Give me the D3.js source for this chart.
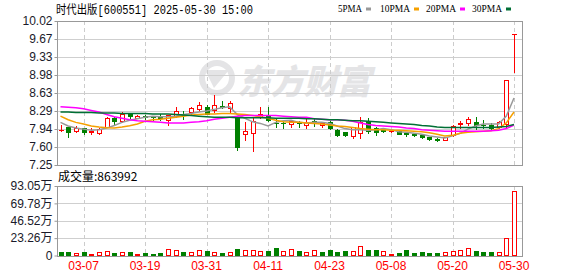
<!DOCTYPE html>
<html>
<head>
<meta charset="utf-8">
<script src="https://cdn.jsdelivr.net/npm/d3@7"></script>
<style>
body { margin: 0; background: #fff; }
svg { display: block; }
</style>
</head>
<body>
<svg id="chart" width="578" height="276"></svg>
<script>
// ---- data ----
const dates = ["03-04","03-05","03-06","03-07","03-10","03-11","03-12","03-13","03-14","03-17",
  "03-18","03-19","03-20","03-21","03-24","03-25","03-26","03-27","03-28","03-31",
  "04-01","04-02","04-03","04-07","04-08","04-09","04-10","04-11","04-14","04-15",
  "04-16","04-17","04-18","04-21","04-22","04-23","04-24","04-25","04-28","04-29",
  "04-30","05-06","05-07","05-08","05-09","05-12","05-13","05-14","05-15","05-16",
  "05-19","05-20","05-21","05-22","05-23","05-26","05-27","05-28","05-29","05-30"]
const open = [7.93,7.98,7.91,7.96,7.89,7.86,7.99,8.15,8.09,8.24, 8.16,8.19,8.18,8.18,8.12,8.20,8.24,8.26,8.32,8.37,
  8.31,8.39,8.34,8.15,7.85,7.87,8.18,8.21,8.06,8.06, 8.03,8.06,8.01,8.10,8.01,8.08,7.93,7.88,7.80,7.87,
  8.10,7.97,7.92,7.90,7.90,7.86,7.85,7.83,7.78,7.75, 7.74,7.83,8.03,8.06,8.08,8.02,8.02,7.99,8.03,9.77]
const high = [8.02,7.99,8.00,7.97,7.97,7.96,8.17,8.18,8.26,8.25, 8.22,8.21,8.20,8.23,8.22,8.36,8.29,8.37,8.47,8.40,
  8.60,8.48,8.48,8.16,8.08,8.15,8.37,8.37,8.13,8.08, 8.12,8.09,8.13,8.13,8.07,8.09,7.94,7.89,7.98,8.18,
  8.15,7.99,7.96,7.91,7.91,7.88,7.86,7.83,7.79,7.77, 7.79,8.02,8.09,8.18,8.18,8.11,8.05,8.10,8.88,9.77]
const low = [7.91,7.78,7.88,7.84,7.84,7.85,7.99,8.01,8.08,8.15, 8.15,8.13,8.12,8.12,8.02,8.18,8.13,8.21,8.29,8.23,
  8.27,8.34,8.26,7.54,7.74,7.51,8.15,8.10,7.99,7.96, 7.99,7.98,7.96,8.00,7.99,7.95,7.80,7.81,7.76,7.76,
  7.87,7.82,7.88,7.89,7.84,7.80,7.80,7.77,7.73,7.72, 7.73,7.80,7.97,8.02,7.95,7.96,7.92,7.96,7.96,9.03]
const close = [7.93,7.88,7.97,7.89,7.90,7.95,8.15,8.10,8.24,8.20, 8.20,8.18,8.17,8.16,8.21,8.29,8.22,8.34,8.40,8.24,
  8.41,8.37,8.45,7.60,7.90,8.09,8.24,8.12,8.05,8.05, 8.09,8.05,8.08,8.09,8.06,7.96,7.83,7.82,7.98,8.08,
  7.90,7.89,7.90,7.90,7.85,7.84,7.82,7.78,7.75,7.74, 7.78,8.00,8.05,8.13,8.02,8.01,7.97,8.07,8.88,9.77]
const prevClose = 7.96
// volume in 万
const volume = [4.9,4.9,4.0,4.9,2.4,4.5,6.3,3.6,4.5,4.9, 2.4,3.6,1.8,3.6,8.2,7.3,4.9,4.5,6.8,6.3,
  4.5,3.6,4.5,8.6,6.8,6.8,5.9,6.3,10.0,6.3, 8.6,6.3,4.5,7.3,4.9,7.7,4.9,6.3,6.3,12.5,
  7.7,7.7,5.9,2.4,3.6,7.7,3.6,4.9,3.6,3.6, 4.5,5.9,7.3,10.0,6.3,4.9,4.9,4.5,23.2,86.3992]
const ma5 = [8.07,8.00,7.96,7.94,7.92,7.93,7.96,8.01,8.07,8.11, 8.14,8.17,8.19,8.18,8.18,8.19,8.22,8.24,8.27,8.29,
  8.32,8.35,8.37,8.22,8.15,8.08,8.05,8.00,8.07,8.10, 8.11,8.07,8.06,8.07,8.07,8.05,8.00,7.95,7.93,7.93,
  7.92,7.93,7.95,7.93,7.89,7.88,7.86,7.84,7.81,7.79, 7.77,7.81,7.86,7.94,8.00,8.04,8.04,8.04,8.19,8.54]
const ma10 = [8.19,8.12,8.07,8.04,8.00,7.98,7.965,7.96,7.98,8.005, 8.04,8.09,8.12,8.13,8.15,8.17,8.19,8.21,8.22,8.23,
  8.23,8.24,8.24,8.23,8.22,8.20,8.18,8.15,8.11,8.08, 8.07,8.07,8.06,8.05,8.04,8.02,8.00,7.99,7.97,7.95,
  7.94,7.93,7.93,7.92,7.92,7.91,7.90,7.89,7.87,7.84, 7.81,7.82,7.86,7.88,7.89,7.90,7.91,7.95,8.06,8.27]
const ma20 = [8.37,8.36,8.35,8.33,8.30,8.27,8.22,8.18,8.15,8.12, 8.10,8.09,8.08,8.07,8.06,8.06,8.06,8.07,8.08,8.10,
  8.13,8.15,8.17,8.19,8.20,8.20,8.20,8.20,8.20,8.19, 8.18,8.17,8.17,8.14,8.13,8.12,8.12,8.11,8.09,8.06,
  8.03,8.01,8.00,7.99,7.98,7.96,7.95,7.93,7.92,7.91, 7.90,7.90,7.90,7.90,7.90,7.90,7.91,7.92,7.95,8.02]
const ma30 = [8.27,8.27,8.26,8.26,8.26,8.25,8.25,8.25,8.24,8.24, 8.24,8.24,8.23,8.23,8.23,8.22,8.21,8.20,8.19,8.18,
  8.17,8.17,8.17,8.16,8.16,8.16,8.16,8.16,8.15,8.15, 8.15,8.15,8.14,8.14,8.13,8.12,8.12,8.11,8.10,8.10,
  8.09,8.08,8.07,8.06,8.05,8.04,8.03,8.01,8.00,7.98, 7.97,7.97,7.97,7.97,7.97,7.97,7.97,7.98,7.99,8.03]
const dateTicks = ["03-07","03-19","03-31","04-11","04-23","05-08","05-20","05-30"]
const priceTickLabels = ["7.25","7.60","7.94","8.29","8.63","8.98","9.33","9.67","10.02"]
const volTickLabels = ["0","23.26万","46.52万","69.78万","93.05万"]
const maNames = ["5PMA","10PMA","20PMA","30PMA"]

const RED = "#ff0000", GREEN = "#008000"
const maColors = ["#999999", "#f5a000", "#ff00ff", "#006f35"]
const left = 57, right = 522
const pTop = 21, pBot = 165, vTop = 186, vBot = 255.5

const svg = d3.select("#chart")
const x = d3.scalePoint().domain(dates).range([60.5, 514])
const y = d3.scaleLinear().domain([7.25, 10.02]).range([pBot, pTop])
const yv = d3.scaleLinear().domain([0, 93.05]).range([vBot, vTop])
const px = d => Math.round(x(d))
const snap = v => Math.round(v) + 0.5

const candles = dates.map((d, i) => ({ d, i, o: open[i], h: high[i], l: low[i], c: close[i], v: volume[i],
  volUp: close[i] >= (i ? close[i - 1] : prevClose) }))

// ---- watermark ----
const wm = svg.append("g").attr("fill", "#e4e4e6")
wm.append("circle").attr("cx", 217).attr("cy", 78).attr("r", 15).attr("fill", "none").attr("stroke", "#e4e4e6").attr("stroke-width", 6)
wm.append("path").attr("d", "M205,70 L229,70 L214,88 Z")
wm.append("text").attr("x", 237).attr("y", 94).attr("font-family", "Noto Sans CJK SC").attr("font-weight", 900)
  .attr("font-style", "italic").attr("font-size", 34).attr("textLength", 134).text("东方财富")

// ---- grids ----
const priceTickVals = d3.range(priceTickLabels.length).map(k => 7.25 + k * (10.02 - 7.25) / 8)
const volTickVals = d3.range(volTickLabels.length).map(k => k * 93.05 / 4)
const grid = svg.append("g").attr("shape-rendering", "crispEdges")
grid.selectAll(".hp").data(priceTickVals).join("line").attr("class", "hp")
  .attr("x1", left).attr("x2", right).attr("y1", d => snap(y(d))).attr("y2", d => snap(y(d))).attr("stroke", "#cfcfcf")
grid.selectAll(".hv").data(volTickVals).join("line").attr("class", "hv")
  .attr("x1", left).attr("x2", right).attr("y1", d => snap(yv(d))).attr("y2", d => snap(yv(d))).attr("stroke", "#cfcfcf")
grid.selectAll(".vp").data(dateTicks).join("line").attr("class", "vp")
  .attr("x1", d => px(d) + 0.5).attr("x2", d => px(d) + 0.5).attr("y1", pTop).attr("y2", pBot)
  .attr("stroke", "#cccccc").attr("stroke-dasharray", "4,3")
grid.selectAll(".vv").data(dateTicks).join("line").attr("class", "vv")
  .attr("x1", d => px(d) + 0.5).attr("x2", d => px(d) + 0.5).attr("y1", vTop).attr("y2", vBot)
  .attr("stroke", "#cccccc").attr("stroke-dasharray", "4,3")

// frames
const frame = svg.append("g").attr("fill", "none").attr("stroke", "#999").attr("shape-rendering", "crispEdges")
frame.append("rect").attr("x", left + 0.5).attr("y", snap(pTop)).attr("width", right - left).attr("height", Math.round(pBot - pTop))
frame.append("rect").attr("x", left + 0.5).attr("y", snap(vTop)).attr("width", right - left).attr("height", Math.round(vBot - vTop))

// ---- axes ----
const yAxis = svg.append("g").attr("transform", `translate(${left + 0.5},0)`)
  .call(d3.axisLeft(y).tickValues(priceTickVals).tickSize(3).tickPadding(2).tickFormat((d, k) => priceTickLabels[k]))
const vAxis = svg.append("g").attr("transform", `translate(${left + 0.5},0)`)
  .call(d3.axisLeft(yv).tickValues(volTickVals).tickSize(3).tickPadding(2).tickFormat((d, k) => volTickLabels[k]))
svg.selectAll(".domain").remove()
yAxis.selectAll("line").attr("stroke", "#999")
vAxis.selectAll("line").attr("stroke", "#999")
svg.selectAll(".tick text").attr("font-family", "Liberation Sans, Arial, Noto Sans CJK SC").attr("font-size", 12).attr("fill", "#1a1a2a")

svg.append("g").selectAll("text").data(dateTicks).join("text")
  .attr("x", d => x(d)).attr("y", 270).attr("text-anchor", "middle")
  .attr("font-family", "Liberation Sans, Arial").attr("font-size", 12).attr("fill", RED).text(d => d)

// ---- candles ----
const cg = svg.append("g").attr("shape-rendering", "crispEdges")
candles.forEach(k => {
  const r = px(k.d)
  const col = k.c > k.o ? RED : k.c < k.o ? GREEN : RED
  const top = Math.round(y(Math.max(k.o, k.c))), bot = Math.round(y(Math.min(k.o, k.c)))
  cg.append("line").attr("x1", r + 0.5).attr("x2", r + 0.5).attr("y1", Math.round(y(k.h))).attr("y2", Math.round(y(k.l)) + 1).attr("stroke", col)
  if (bot - top < 1) {
    cg.append("line").attr("x1", r - 2).attr("x2", r + 3).attr("y1", top + 0.5).attr("y2", top + 0.5).attr("stroke", col)
  } else if (k.c > k.o) {
    cg.append("rect").attr("x", r - 1.5).attr("y", top + 0.5).attr("width", 4).attr("height", bot - top).attr("fill", "#fff").attr("stroke", col)
  } else {
    cg.append("rect").attr("x", r - 2).attr("y", top).attr("width", 5).attr("height", bot - top + 1).attr("fill", col)
  }
})

// ---- moving averages ----
const maData = [ma5, ma10, ma20, ma30]
const line = d3.line().x((v, i) => x(dates[i])).y(v => y(v))
svg.append("g").selectAll("path").data(maData).join("path")
  .attr("d", d => line(d)).attr("fill", "none").attr("stroke", (d, i) => maColors[i]).attr("stroke-width", 1.5)

// ---- volume ----
const vg = svg.append("g").attr("shape-rendering", "crispEdges")
candles.forEach(k => {
  const r = px(k.d)
  const top = Math.round(yv(k.v)), bot = Math.round(vBot)
  if (k.volUp) {
    vg.append("rect").attr("x", r - 1.5).attr("y", top + 0.5).attr("width", 4).attr("height", Math.max(1, bot - top - 1)).attr("fill", "#fff").attr("stroke", RED)
  } else {
    vg.append("rect").attr("x", r - 2).attr("y", top).attr("width", 5).attr("height", bot - top).attr("fill", GREEN)
  }
})

// ---- titles & legend ----
svg.append("text").attr("x", 56).attr("y", 14).attr("font-family", "Liberation Mono, Noto Sans CJK SC").attr("font-size", 12)
  .attr("textLength", 197).attr("lengthAdjust", "spacingAndGlyphs").attr("fill", "#000").text("时代出版[600551] 2025-05-30 15:00")
svg.append("text").attr("x", 58).attr("y", 181).attr("font-family", "Noto Sans CJK SC, Liberation Sans").attr("font-size", 12)
  .attr("fill", "#000").text("成交量:" + Math.round(volume[volume.length - 1] * 10000))

const legX = [338, 380, 426, 472], legW = [24, 30, 30, 30]
const leg = svg.append("g")
maNames.forEach((n, i) => {
  leg.append("text").attr("x", legX[i]).attr("y", 11.5).attr("font-family", "Liberation Serif, serif").attr("font-size", 10)
    .attr("textLength", legW[i]).attr("lengthAdjust", "spacingAndGlyphs").attr("fill", "#000").text(n)
  leg.append("rect").attr("x", legX[i] + legW[i] + 4).attr("y", 7.5).attr("width", 5).attr("height", 3).attr("fill", maColors[i])
})
</script>
</body>
</html>
